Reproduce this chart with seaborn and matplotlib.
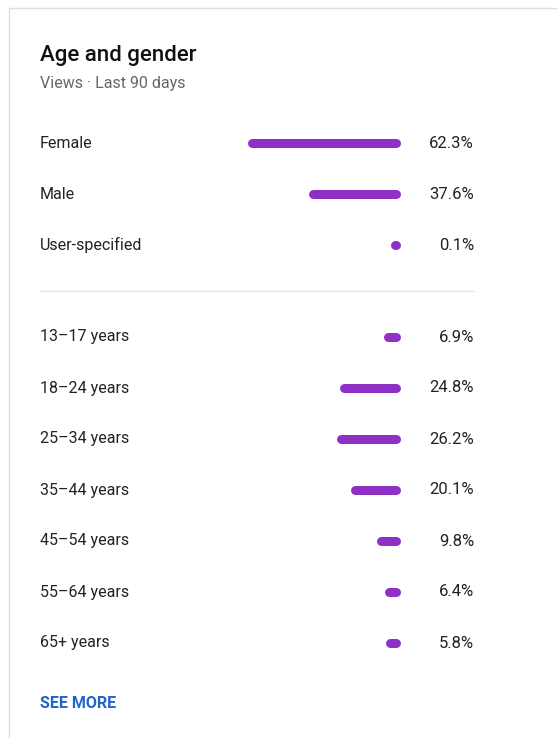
import matplotlib
matplotlib.use("Agg")
import matplotlib.pyplot as plt
import matplotlib.transforms as mtransforms
from matplotlib.patches import Rectangle
from matplotlib.lines import Line2D
import pandas as pd
import seaborn as sns

# Audience breakdown (share of views, %)
gender_labels = ["Female", "Male", "User-specified"]
gender_values = [62.3, 37.6, 0.1]

age_labels = ["13–17 years", "18–24 years", "25–34 years", "35–44 years",
              "45–54 years", "55–64 years", "65+ years"]
age_values = [6.9, 24.8, 26.2, 20.1, 9.8, 6.4, 5.8]

title = "Age and gender"
subtitle = "Views · Last 90 days"
link_text = "SEE MORE"

sns.set_style("white")
plt.rcParams["font.family"] = ["Roboto", "DejaVu Sans"]

W, H, DPI = 557, 738, 100
PURPLE = "#8e2fc6"
TEXT = "#222222"
MUTED = "#666666"
BLUE = "#2264c9"

PX_PER_PCT = 2.44      # horizontal scale of the bars
BAR_PX = 9             # bar thickness in pixels
ROW_PX = 51            # row pitch in pixels
X_LEFT, X_RIGHT, X_ZERO = 40, 474, 400

fig = plt.figure(figsize=(W / DPI, H / DPI), dpi=DPI)
fig.patch.set_facecolor("white")


def fx(px):
    return px / W


def fy(py):
    return 1 - py / H


# card outline
fig.patches.append(Rectangle((fx(9), -0.2), 2, fy(8) + 0.2, transform=fig.transFigure,
                             fill=False, edgecolor="#dedede", linewidth=1.0))

fig.text(fx(X_LEFT), fy(61), title, fontsize=16, fontweight="medium",
         color="#111111", va="baseline", ha="left")
fig.text(fx(X_LEFT), fy(88), subtitle, fontsize=11.5, color=MUTED,
         va="baseline", ha="left")

# divider between the gender and age groups
fig.add_artist(Line2D([fx(X_LEFT), fx(X_RIGHT)], [fy(291), fy(291)],
                      transform=fig.transFigure, color="#e6e6e6", linewidth=1.0))

fig.text(fx(X_LEFT), fy(704), link_text, fontsize=11.5, fontweight="bold",
         color=BLUE, va="center", ha="left")


def panel(first_row_px, labels, values):
    n = len(labels)
    top = first_row_px - ROW_PX / 2
    ax = fig.add_axes([fx(X_LEFT), fy(top + n * ROW_PX), fx(X_RIGHT) - fx(X_LEFT),
                       n * ROW_PX / H])
    df = pd.DataFrame({"label": labels, "value": values})
    sns.barplot(data=df, x="value", y="label", orient="h", color=PURPLE,
                width=BAR_PX / ROW_PX, ax=ax, saturation=1)
    # bars grow leftwards from a common right edge
    ax.set_xlim((X_ZERO - X_LEFT) / PX_PER_PCT, -(X_RIGHT - X_ZERO) / PX_PER_PCT)
    ax.set_ylim(n - 0.5, -0.5)

    # redraw each bar as a pill with round ends and the same total length
    r = (BAR_PX / 2) / PX_PER_PCT
    min_len = BAR_PX / PX_PER_PCT
    for p, v in zip(ax.patches, values):
        length = max(v, min_len)
        yc = p.get_y() + p.get_height() / 2
        p.set_visible(False)
        ax.plot([r, r + max(length - 2 * r, 0.02)], [yc, yc], color=PURPLE,
                linewidth=BAR_PX * 72 / DPI, solid_capstyle="round")

    trans = mtransforms.blended_transform_factory(ax.transAxes, ax.transData)
    for i, (lab, v) in enumerate(zip(labels, values)):
        ax.text(0, i, lab, transform=trans, ha="left", va="center",
                fontsize=11.5, color=TEXT)
        ax.text(1, i, f"{v}%", transform=trans, ha="right", va="center",
                fontsize=12, color=TEXT)

    ax.set_axis_off()
    return ax


panel(143, gender_labels, gender_values)
panel(337, age_labels, age_values)

fig.savefig("out.png", dpi=DPI, facecolor="white")
